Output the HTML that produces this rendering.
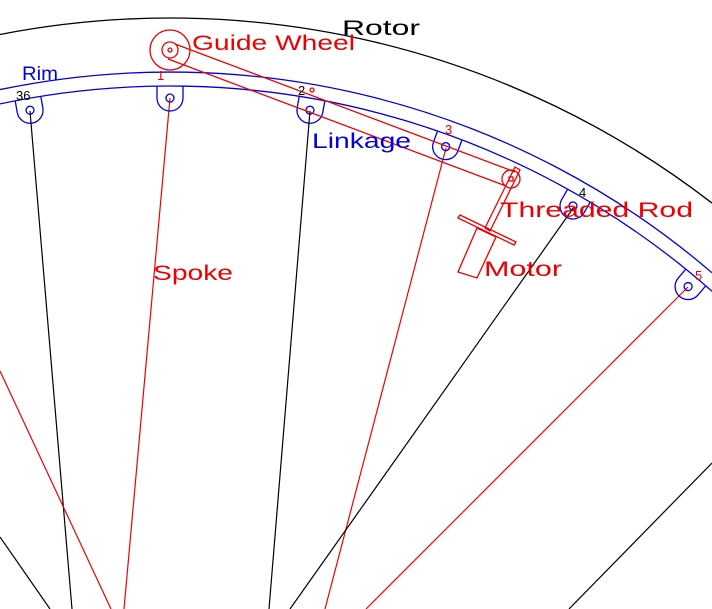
<!DOCTYPE html>
<html><head><meta charset="utf-8"><style>html,body{margin:0;padding:0;background:#fff;width:712px;height:609px;overflow:hidden}svg{display:block}</style></head>
<body>
<svg width="712" height="609" viewBox="0 0 712 609" xmlns="http://www.w3.org/2000/svg" font-family="Liberation Sans, sans-serif">
<rect width="712" height="609" fill="#fff"/>
<path d="M0,34.5 A886,886 0 0 1 712,203.1" fill="none" stroke="#000" stroke-width="1.3"/>
<path d="M0,89.6 A832,832 0 0 1 712,272.8" fill="none" stroke="#0000e0" stroke-width="1.3"/>
<path d="M0,103.9 A818,818 0 0 1 712,291.3" fill="none" stroke="#0000e0" stroke-width="1.3"/>
<g stroke-width="1.2" fill="none">
<line x1="30" y1="111" x2="72" y2="609" stroke="#000"/>
<line x1="170" y1="98" x2="124" y2="609" stroke="#e00"/>
<line x1="310" y1="111" x2="269" y2="609" stroke="#000"/>
<line x1="446" y1="148" x2="325" y2="609" stroke="#e00"/>
<line x1="574" y1="207" x2="290" y2="609" stroke="#000"/>
<line x1="688" y1="287" x2="366" y2="609" stroke="#e00"/>
<line x1="0" y1="371" x2="111" y2="609" stroke="#e00"/>
<line x1="0" y1="537" x2="50" y2="609" stroke="#000"/>
<line x1="712" y1="463" x2="569" y2="609" stroke="#000"/>
</g>
<g fill="none" stroke="#0000e0" stroke-width="1.3">
<g transform="rotate(-10 170 904)"><path d="M157,86 L157,98 A13,13 0 0 0 183,98 L183,86"/><circle cx="170" cy="98" r="4"/></g>
<g><path d="M157,86 L157,98 A13,13 0 0 0 183,98 L183,86"/><circle cx="170" cy="98" r="4"/></g>
<g transform="rotate(10 170 904)"><path d="M157,86 L157,98 A13,13 0 0 0 183,98 L183,86"/><circle cx="170" cy="98" r="4"/></g>
<g transform="rotate(20 170 904)"><path d="M157,86 L157,98 A13,13 0 0 0 183,98 L183,86"/><circle cx="170" cy="98" r="4"/></g>
<g transform="rotate(30 170 904)"><path d="M157,86 L157,98 A13,13 0 0 0 183,98 L183,86"/><circle cx="170" cy="98" r="4"/></g>
<g transform="rotate(40 170 904)"><path d="M157,86 L157,98 A13,13 0 0 0 183,98 L183,86"/><circle cx="170" cy="98" r="4"/></g>
</g>
<g fill="none" stroke="#e00" stroke-width="1.3">
<circle cx="170" cy="50" r="20"/>
<circle cx="170" cy="50" r="8"/>
<circle cx="170" cy="50" r="2"/>
<line x1="175" y1="44" x2="515" y2="172"/>
<line x1="168" y1="59" x2="506" y2="186"/>
<circle cx="312" cy="90" r="2"/>
<circle cx="511" cy="179" r="9"/>
<rect x="509" y="177" width="4" height="4"/>
<polygon points="515,167 520,170 490,231 485,228"/>
<polygon points="458,218 460,215 516,242 514,245"/>
<polygon points="477,228 496,237 477,278 458,272"/>
</g>
<g font-size="21">
<text x="342" y="35" fill="#000" textLength="78" lengthAdjust="spacingAndGlyphs">Rotor</text>
<text x="192" y="50" fill="#e00" textLength="163" lengthAdjust="spacingAndGlyphs">Guide Wheel</text>
<text x="22" y="80" fill="#0000e0" font-size="19" textLength="36" lengthAdjust="spacingAndGlyphs">Rim</text>
<text x="312" y="148" fill="#0000e0" textLength="99" lengthAdjust="spacingAndGlyphs">Linkage</text>
<text x="500" y="217" fill="#e00" textLength="193" lengthAdjust="spacingAndGlyphs">Threaded Rod</text>
<text x="153" y="280" fill="#e00" textLength="80" lengthAdjust="spacingAndGlyphs">Spoke</text>
<text x="484" y="276" fill="#e00" textLength="78" lengthAdjust="spacingAndGlyphs">Motor</text>
</g>
<g font-size="13">
<text x="16" y="100" fill="#000">36</text>
<text x="157" y="80" fill="#e00">1</text>
<text x="298" y="95" fill="#000">2</text>
<text x="445" y="134" fill="#e00">3</text>
<text x="579" y="197" fill="#000">4</text>
<text x="695" y="280" fill="#e00">5</text>
</g>
</svg>
</body></html>
